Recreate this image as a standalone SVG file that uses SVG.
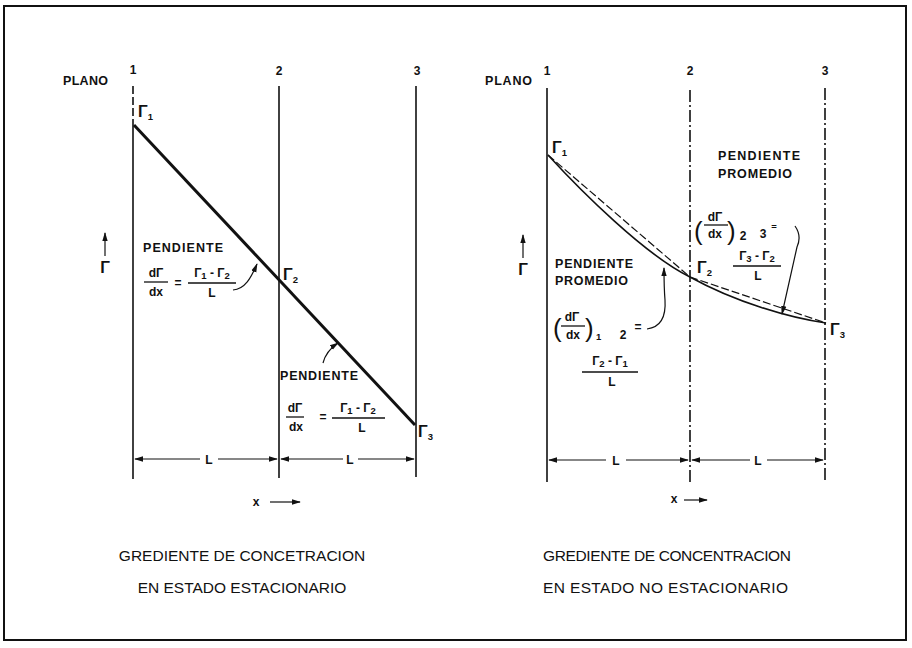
<svg xmlns="http://www.w3.org/2000/svg" width="912" height="648" viewBox="0 0 912 648">
<defs>
<marker id="ah" viewBox="0 0 10 10" refX="9" refY="5" markerWidth="9" markerHeight="9" orient="auto-start-reverse" markerUnits="userSpaceOnUse"><path d="M0,2 L10,5 L0,8 z" fill="#111"/></marker>
<style>
.pl{stroke:#111;stroke-width:1.6;fill:none}
.dd{stroke-dasharray:12 3 2 3}
.ds{stroke-dasharray:8 3}
.th{stroke:#111;stroke-width:1.2;fill:none}
.bar{stroke:#111;stroke-width:1.3}
.t{font-family:"Liberation Sans",Arial,sans-serif;font-weight:bold;fill:#111}
.lb{font-size:12.5px}
.f{font-size:12px}
.g{font-size:16px}
.sb{font-size:9.5px}
.pa{font-size:26px;font-weight:normal}
.cap{font-family:"Liberation Sans",Arial,sans-serif;font-size:15.5px;fill:#111}
</style>
</defs>
<rect x="0" y="0" width="912" height="648" fill="#fff"/>
<rect id="frame" x="4" y="6" width="902" height="634" fill="none" stroke="#111" stroke-width="2"/>

<!-- LEFT PANEL -->
<g id="left-planes">
<text class="t lb" x="63" y="85" textLength="45">PLANO</text>
<text class="t f" x="133" y="74" text-anchor="middle">1</text>
<text class="t f" x="279" y="75" text-anchor="middle">2</text>
<text class="t f" x="417" y="75" text-anchor="middle">3</text>
<line class="pl ds" x1="133" y1="86" x2="133" y2="125"/>
<line class="pl" x1="133" y1="125" x2="133" y2="479"/>
<line class="pl" x1="279" y1="86" x2="279" y2="478"/>
<line class="pl" x1="416" y1="86" x2="416" y2="477"/>
</g>
<g id="left-profile">
<line x1="134" y1="125" x2="415" y2="425" stroke="#111" stroke-width="3"/>
<text class="t g" x="138" y="117">Γ<tspan class="sb" dy="3">1</tspan></text>
<text class="t g" x="283" y="280">Γ<tspan class="sb" dy="3" font-size="11">2</tspan></text>
<text class="t g" x="418" y="437">Γ<tspan class="sb" dy="3" font-size="11">3</tspan></text>
</g>
<g id="left-axis">
<line class="th" x1="105" y1="256" x2="105" y2="233" marker-end="url(#ah)"/>
<text class="t g" x="105" y="273" text-anchor="middle">Γ</text>
</g>
<g id="left-slope1">
<text class="t lb" x="143" y="252" textLength="80">PENDIENTE</text>
<text class="t f" x="156" y="277" text-anchor="middle">dΓ</text>
<line class="bar" x1="144" y1="282" x2="168" y2="282"/>
<text class="t f" x="156" y="296" text-anchor="middle">dx</text>
<text class="t f" x="178" y="287" text-anchor="middle">=</text>
<text class="t f" x="212" y="277" text-anchor="middle">Γ<tspan class="sb" dy="2">1</tspan><tspan dy="-2"> - Γ</tspan><tspan class="sb" dy="2">2</tspan></text>
<line class="bar" x1="188" y1="283" x2="236" y2="283"/>
<text class="t f" x="212" y="297" text-anchor="middle">L</text>
</g>
<g id="left-slope2">
<text class="t lb" x="280" y="380" textLength="78">PENDIENTE</text>
<text class="t f" x="295" y="412" text-anchor="middle">dΓ</text>
<line class="bar" x1="286" y1="417" x2="304" y2="417"/>
<text class="t f" x="296" y="431" text-anchor="middle">dx</text>
<text class="t f" x="323" y="421" text-anchor="middle">=</text>
<text class="t f" x="358" y="412" text-anchor="middle">Γ<tspan class="sb" dy="2">1</tspan><tspan dy="-2"> - Γ</tspan><tspan class="sb" dy="2">2</tspan></text>
<line class="bar" x1="332" y1="418" x2="385" y2="418"/>
<text class="t f" x="362" y="432" text-anchor="middle">L</text>
</g>
<g id="left-dims">
<line class="th" x1="135" y1="459" x2="200" y2="459" marker-start="url(#ah)"/>
<line class="th" x1="218" y1="459" x2="277" y2="459" marker-end="url(#ah)"/>
<text class="t f" x="209" y="464" text-anchor="middle">L</text>
<line class="th" x1="281" y1="459" x2="343" y2="459" marker-start="url(#ah)"/>
<line class="th" x1="358" y1="459" x2="414" y2="459" marker-end="url(#ah)"/>
<text class="t f" x="350" y="464" text-anchor="middle">L</text>
<text class="t f" x="256" y="506" text-anchor="middle">x</text>
<line class="th" x1="270" y1="502" x2="300" y2="502" marker-end="url(#ah)"/>
</g>

<!-- RIGHT PANEL -->
<g id="right-planes">
<text class="t lb" x="485" y="85" textLength="47">PLANO</text>
<text class="t f" x="547" y="75" text-anchor="middle">1</text>
<text class="t f" x="690" y="75" text-anchor="middle">2</text>
<text class="t f" x="825" y="75" text-anchor="middle">3</text>
<line class="pl" x1="547" y1="88" x2="547" y2="482"/>
<line class="pl dd" x1="690" y1="90" x2="690" y2="482"/>
<line class="pl dd" x1="825" y1="88" x2="825" y2="482"/>
</g>
<g id="right-profile">
<path class="pl" d="M548,155 C580,190 645,255 690,277 C735,302 790,318 826,323"/>
<line class="th ds" x1="548" y1="155" x2="690" y2="277"/>
<line class="th ds" x1="690" y1="277" x2="826" y2="323"/>
<text class="t g" x="552" y="153">Γ<tspan class="sb" dy="3">1</tspan></text>
<text class="t g" x="697" y="273">Γ<tspan class="sb" dy="3" font-size="11">2</tspan></text>
<text class="t g" x="830" y="335">Γ<tspan class="sb" dy="3" font-size="11">3</tspan></text>
</g>
<g id="right-axis">
<line class="th" x1="523" y1="258" x2="523" y2="235" marker-end="url(#ah)"/>
<text class="t g" x="523" y="275" text-anchor="middle">Γ</text>
</g>
<g id="right-slope1">
<text class="t lb" x="555" y="268" textLength="78">PENDIENTE</text>
<text class="t lb" x="555" y="285" textLength="73">PROMEDIO</text>
<text class="t pa" x="553" y="337">(</text>
<text class="t f" x="572" y="321" text-anchor="middle">dΓ</text>
<line class="bar" x1="561" y1="326" x2="585" y2="326"/>
<text class="t f" x="573" y="339" text-anchor="middle">dx</text>
<text class="t pa" x="585" y="337">)</text>
<text class="t sb" x="596" y="340">1</text>
<text class="t f" x="623" y="339" text-anchor="middle">2</text>
<text class="t f" x="638" y="331" text-anchor="middle">=</text>
<text class="t f" x="610" y="365" text-anchor="middle">Γ<tspan class="sb" dy="2">2</tspan><tspan dy="-2"> - Γ</tspan><tspan class="sb" dy="2">1</tspan></text>
<line class="bar" x1="582" y1="372" x2="638" y2="372"/>
<text class="t f" x="612" y="386" text-anchor="middle">L</text>
</g>
<g id="right-slope2">
<text class="t lb" x="718" y="160" textLength="82">PENDIENTE</text>
<text class="t lb" x="718" y="178" textLength="74">PROMEDIO</text>
<text class="t pa" x="694" y="240">(</text>
<text class="t f" x="715" y="221" text-anchor="middle">dΓ</text>
<line class="bar" x1="704" y1="225" x2="728" y2="225"/>
<text class="t f" x="715" y="238" text-anchor="middle">dx</text>
<text class="t pa" x="727" y="240">)</text>
<text class="t f" x="743" y="240" text-anchor="middle">2</text>
<text class="t f" x="763" y="238" text-anchor="middle">3</text>
<text class="t sb" x="774" y="230" text-anchor="middle">=</text>
<text class="t f" x="757" y="260" text-anchor="middle">Γ<tspan class="sb" dy="2">3</tspan><tspan dy="-2"> - Γ</tspan><tspan class="sb" dy="2">2</tspan></text>
<line class="bar" x1="733" y1="266" x2="781" y2="266"/>
<text class="t f" x="758" y="280" text-anchor="middle">L</text>
</g>
<g id="right-dims">
<line class="th" x1="549" y1="460" x2="606" y2="460" marker-start="url(#ah)"/>
<line class="th" x1="626" y1="460" x2="688" y2="460" marker-end="url(#ah)"/>
<text class="t f" x="616" y="465" text-anchor="middle">L</text>
<line class="th" x1="692" y1="460" x2="750" y2="460" marker-start="url(#ah)"/>
<line class="th" x1="767" y1="460" x2="823" y2="460" marker-end="url(#ah)"/>
<text class="t f" x="758" y="465" text-anchor="middle">L</text>
<text class="t f" x="674" y="503" text-anchor="middle">x</text>
<line class="th" x1="684" y1="500" x2="707" y2="500" marker-end="url(#ah)"/>
</g>

<g id="connectors">
<path class="th" d="M233,290 C245,289 251,278 257,264" marker-end="url(#ah)"/>
<path class="th" d="M323,363 C325,355 329,349 338,343" marker-end="url(#ah)"/>
<path class="th" d="M647,329 C662,327 666,315 665,300 C664,288 664,279 664,268" marker-end="url(#ah)"/>
<path class="th" d="M795,226 Q802,236 797,247 L782,314" marker-end="url(#ah)"/>
</g>

<g id="captions">
<text class="cap" x="242" y="561" text-anchor="middle">GREDIENTE  DE CONCETRACION</text>
<text class="cap" x="242" y="593" text-anchor="middle">EN  ESTADO  ESTACIONARIO</text>
<text class="cap" x="543" y="561" textLength="248">GREDIENTE  DE CONCENTRACION</text>
<text class="cap" x="543" y="593" textLength="245">EN  ESTADO NO ESTACIONARIO</text>
</g>
</svg>
